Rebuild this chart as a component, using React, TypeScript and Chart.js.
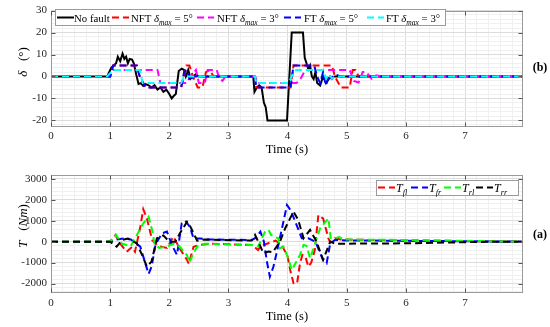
import { useEffect, useRef } from 'react';
import { Chart, registerables } from 'chart.js';
Chart.register(...registerables);

const FONT = '"Liberation Serif", "DejaVu Serif", serif';

// ---------- Panel (b): steering angle delta (deg) ----------
const noFaultT = [0,0.95,1.02,1.06,1.1,1.13,1.17,1.21,1.24,1.27,1.3,1.33,1.37,1.4,1.44,1.48,1.52,1.56,1.6,1.65,1.7,1.75,1.8,1.85,1.9,1.95,2.0,2.04,2.07,2.11,2.16,2.21,2.25,2.28,2.32,2.36,2.4,2.45,2.5,2.6,3.42,3.44,3.48,3.52,3.56,3.6,3.63,3.66,3.99,4.07,4.26,4.29,4.32,4.35,4.38,4.41,4.44,4.47,4.5,4.55,4.6,4.65,4.7,4.8,8];
const noFault = [0,0,4,5,6,9,7,10.4,8,9,6,8,7.7,6,1,-3.4,-3,-4.3,-3.5,-4,-5,-4,-6,-5,-7,-6,-8,-10,-9,-8,2.5,3.6,3,0,3,-1,0,1,0,0,0,-7,-5,-4,-5,-12,-14,-20,-20,20,20,8.5,6,3.3,5,0,-1.2,2,-3,-4.1,0,-3,-1,0,0];

const nft5T = [0,1.0,1.05,1.45,1.5,1.6,2.2,2.25,2.29,2.34,2.4,2.48,2.56,2.62,2.68,2.75,3.45,3.47,4.05,4.1,4.75,4.8,4.9,5.05,5.1,5.15,5.2,8];
const nft5 = [0,0,5,5,0,-5,-5,0,5,5,0,-5,-5,2,3,0,0,-5,-5,5,5,0,-5,-5,3,3,0,0];

const nft3T = [0,1.0,1.05,1.6,1.8,1.85,2.3,2.35,2.45,2.5,2.6,2.65,2.8,2.85,2.9,2.95,3.45,3.5,4.15,4.22,4.3,5.05,5.12,5.2,5.27,5.33,5.42,5.5,5.6,8];
const nft3 = [0,0,3,3,3,-3,-3,0,3,-3,-3,3,3,-1,-2,0,0,-3,-3,-1,3,3,-2,-2.7,2,2,-1,0.5,0,0];

const ft5T = [0,1.0,1.05,1.45,1.5,1.6,2.2,2.25,2.3,2.35,2.4,2.5,3.45,3.47,4.05,4.1,4.45,4.5,4.55,4.6,4.65,4.7,4.75,4.8,4.9,8];
const ft5 = [0,0,5,5,0,-5,-5,2,3,-2,0,0,0,-5,-5,5,5,0,-3,2,-4,1,-1,1,0,0];

const ft3T = [0,0.95,1.05,1.5,1.55,2.2,2.25,2.35,3.45,3.47,4.02,4.1,4.15,4.6,4.65,4.7,4.75,4.8,8];
const ft3 = [0,0,3,3,-3,-3,0,0,0,-3,-3,2,3,3,-1,1,-1,0,0];

// ---------- Panel (a): wheel torques (Nm) ----------
const tflT = [0,1.0,1.09,1.17,1.28,1.37,1.42,1.51,1.56,1.62,1.71,1.8,1.96,2.07,2.18,2.3,2.33,2.41,2.52,2.7,3.4,3.5,3.55,3.65,3.8,3.9,4.0,4.05,4.1,4.16,4.21,4.25,4.3,4.35,4.4,4.46,4.52,4.6,4.69,4.72,4.8,4.9,6,8];
const tfl = [0,0,320,-100,-480,-250,-480,710,1550,1110,80,-200,-300,240,-350,-870,-1060,-240,-150,-100,-160,-400,-200,-100,50,-160,-700,-1430,-1980,-2000,-1030,-630,-700,-1190,-1000,-400,1270,1110,160,-30,160,100,60,0];

const tfrT = [0,1.0,1.1,1.23,1.35,1.51,1.58,1.65,1.7,1.77,1.88,1.96,2.05,2.13,2.21,2.27,2.35,2.41,2.52,2.7,3.4,3.47,3.54,3.6,3.65,3.7,3.76,3.82,3.9,3.99,4.05,4.13,4.24,4.35,4.47,4.6,4.66,4.72,4.8,5,8];
const tfr = [0,0,100,150,100,-240,-900,-1540,-1200,-100,400,480,-200,-630,875,1000,700,150,150,100,80,200,480,0,-950,-1670,-1200,-475,560,1750,1500,950,160,160,0,-870,-1030,-100,80,60,0];

const trlT = [0,1.0,1.1,1.2,1.35,1.45,1.56,1.65,1.71,1.75,1.83,1.96,2.07,2.18,2.3,2.34,2.41,2.47,2.6,3.4,3.5,3.62,3.68,3.72,3.84,3.87,3.93,4.01,4.07,4.14,4.21,4.27,4.32,4.38,4.44,4.55,4.69,4.73,4.8,4.87,4.95,6,8];
const trl = [0,0,320,-100,-200,300,875,1190,540,-100,-300,-240,-100,-250,-650,-1000,-540,-250,-100,-160,-240,480,560,320,160,-320,-240,-790,-1350,-1000,-630,-160,-200,-790,-300,640,1110,160,160,220,100,80,0];

const trrT = [0,1.0,1.11,1.2,1.3,1.45,1.55,1.62,1.7,1.79,1.9,2.0,2.1,2.18,2.3,2.35,2.47,2.6,3.39,3.45,3.52,3.59,3.68,3.75,3.87,3.96,4.1,4.18,4.27,4.38,4.49,4.6,4.72,4.8,6,7.5,8];
const trr = [0,0,-240,80,150,-80,-700,-1190,-950,160,300,0,0,400,950,750,50,100,50,320,-100,-550,-475,-500,0,640,1430,1030,160,560,0,-870,0,-100,-80,0,0];

// ---------- axis ranges / ticks ----------
const timeMin = 0;
const timeMax = 7.98;
const deltaMin = -23;
const deltaMax = 30;
const torqueMin = -2450;
const torqueMax = 3180;

type Part = { t: string; k: 'n' | 'i' | 's' };

function pts(t: number[], v: number[]) {
  return t.map((x, i) => ({ x, y: v[i] }));
}
function makeTicks(min: number, max: number, step: number) {
  const out: number[] = [];
  const k0 = Math.ceil(min / step - 1e-9);
  const k1 = Math.floor(max / step + 1e-9);
  for (let k = k0; k <= k1; k++) out.push(Math.round(k * step * 1000) / 1000);
  return out;
}
function isMajor(v: number, major: number) {
  return Math.abs(v / major - Math.round(v / major)) < 1e-6;
}
function richWidth(ctx: CanvasRenderingContext2D, parts: Part[], size: number) {
  let w = 0;
  for (const p of parts) {
    const fs = p.k === 's' ? size * 0.7 : size;
    ctx.font = `${p.k === 'n' ? '' : 'italic '}${fs}px ${FONT}`;
    w += ctx.measureText(p.t).width;
  }
  return w;
}
function drawRich(ctx: CanvasRenderingContext2D, parts: Part[], x: number, y: number, size: number) {
  let cx = x;
  for (const p of parts) {
    const fs = p.k === 's' ? size * 0.7 : size;
    ctx.font = `${p.k === 'n' ? '' : 'italic '}${fs}px ${FONT}`;
    ctx.fillText(p.t, cx, y + (p.k === 's' ? size * 0.28 : 0));
    cx += ctx.measureText(p.t).width;
  }
}

function axis(position: string, min: number, max: number, minor: number, major: number, pad: number, fit: (s: any) => void) {
  return {
    type: 'linear',
    position,
    min,
    max,
    bounds: 'data',
    afterBuildTicks: (s: any) => {
      s.ticks = makeTicks(min, max, minor).map((v) => ({ value: v }));
    },
    afterFit: fit,
    ticks: {
      autoSkip: false,
      maxRotation: 0,
      padding: pad,
      color: '#262626',
      font: { family: FONT, size: 11 },
      callback: (v: number) => (isMajor(v, major) ? String(v) : ''),
    },
    grid: {
      drawTicks: false,
      lineWidth: 1,
      color: (c: any) => (c.tick && isMajor(c.tick.value, major) ? '#dcdcdc' : '#f0f0f0'),
    },
    border: { display: false },
  };
}

type LegendItem = { lx: number; tx: number; color: string; dash: number[]; parts: Part[] };
type Deco = {
  xMajor: number;
  yMajor: number;
  box: [number, number, number, number];
  legendY: number;
  legend: LegendItem[];
  legendSize: number;
  yTitle: Part[];
  yTitleX: number;
  yTitleY: number;
  xTitleY: number;
  tag: string;
  tagY: number;
};

function decoPlugin(d: Deco) {
  return {
    id: 'deco',
    afterDatasetsDraw(chart: any) {
      const { ctx, chartArea: a } = chart;
      ctx.save();
      ctx.strokeStyle = '#9a9a9a';
      ctx.lineWidth = 1;
      const L = Math.round(a.left) + 0.5, T = Math.round(a.top) + 0.5;
      const R = Math.round(a.right) - 0.5, B = Math.round(a.bottom) - 0.5;
      ctx.strokeRect(L, T, R - L, B - T);
      ctx.strokeStyle = '#555';
      ctx.beginPath();
      const xs = chart.scales.x, ys = chart.scales.y;
      for (const t of xs.ticks) {
        if (!isMajor(t.value, d.xMajor)) continue;
        const p = Math.round(xs.getPixelForValue(t.value)) + 0.5;
        ctx.moveTo(p, B); ctx.lineTo(p, B - 4);
        ctx.moveTo(p, T); ctx.lineTo(p, T + 4);
      }
      for (const t of ys.ticks) {
        if (!isMajor(t.value, d.yMajor)) continue;
        const p = Math.round(ys.getPixelForValue(t.value)) + 0.5;
        ctx.moveTo(L, p); ctx.lineTo(L + 4, p);
        ctx.moveTo(R, p); ctx.lineTo(R - 4, p);
      }
      ctx.stroke();
      ctx.restore();
    },
    afterDraw(chart: any) {
      const { ctx, chartArea: a } = chart;
      ctx.save();
      const [bx, by, bw, bh] = d.box;
      ctx.fillStyle = '#fff';
      ctx.fillRect(bx, by, bw, bh);
      ctx.strokeStyle = '#9a9a9a';
      ctx.lineWidth = 1;
      ctx.strokeRect(bx + 0.5, by + 0.5, bw, bh);
      for (const it of d.legend) {
        ctx.strokeStyle = it.color;
        ctx.lineWidth = 2;
        ctx.setLineDash(it.dash);
        ctx.beginPath();
        ctx.moveTo(it.lx, d.legendY);
        ctx.lineTo(it.lx + 17, d.legendY);
        ctx.stroke();
        ctx.setLineDash([]);
        ctx.fillStyle = '#000';
        ctx.textBaseline = 'alphabetic';
        drawRich(ctx, it.parts, it.tx, d.legendY + 4, d.legendSize);
      }
      ctx.fillStyle = '#000';
      ctx.textAlign = 'left';
      const xt: Part[] = [{ t: 'Time (s)', k: 'n' }];
      const xw = richWidth(ctx, xt, 12.5);
      drawRich(ctx, xt, (a.left + a.right) / 2 - xw / 2, d.xTitleY + 4, 12.5);
      ctx.save();
      ctx.translate(d.yTitleX, d.yTitleY);
      ctx.rotate(-Math.PI / 2);
      const yw = richWidth(ctx, d.yTitle, 13);
      drawRich(ctx, d.yTitle, -yw / 2, 4.5, 13);
      ctx.restore();
      ctx.font = `bold 12px ${FONT}`;
      ctx.textAlign = 'center';
      ctx.textBaseline = 'middle';
      ctx.fillText(d.tag, 540, d.tagY);
      ctx.restore();
    },
  };
}

const DASH = [7, 4];

function ds(t: number[], v: number[], color: string, dash: number[], order: number) {
  return {
    data: pts(t, v),
    borderColor: color,
    backgroundColor: color,
    borderWidth: 2,
    borderDash: dash,
    pointRadius: 0,
    tension: 0,
    fill: false,
    order,
  };
}

export default function App() {
  const r1 = useRef<HTMLCanvasElement>(null);
  const r2 = useRef<HTMLCanvasElement>(null);

  useEffect(() => {
    document.body.style.margin = '0';
    const dsub = (v: string): Part[] => [
      { t: 'NFT ', k: 'n' },
      { t: 'δ', k: 'i' },
      { t: 'max', k: 's' },
      { t: ' = ' + v, k: 'n' },
    ];
    const fsub = (v: string): Part[] => [
      { t: 'FT ', k: 'n' },
      { t: 'δ', k: 'i' },
      { t: 'max', k: 's' },
      { t: ' = ' + v, k: 'n' },
    ];
    const c1 = new Chart(r1.current!, {
      type: 'line',
      data: {
        datasets: [
          ds(noFaultT, noFault, '#000000', [], 5),
          ds(nft5T, nft5, '#ff0000', DASH, 4),
          ds(nft3T, nft3, '#ff00ff', DASH, 3),
          ds(ft5T, ft5, '#0000ff', DASH, 2),
          ds(ft3T, ft3, '#00ffff', DASH, 1),
        ] as any,
      },
      options: {
        responsive: false,
        animation: false,
        devicePixelRatio: 1,
        layout: { padding: { top: 8, right: 27, left: 0, bottom: 0 } },
        plugins: { legend: { display: false }, tooltip: { enabled: false } },
        scales: {
          x: axis('bottom', timeMin, timeMax, 0.2, 1, 3, (s: any) => { s.height = 33; }),
          y: axis('left', deltaMin, deltaMax, 2, 10, 4, (s: any) => { s.width = 51; }),
        } as any,
      },
      plugins: [
        decoPlugin({
          xMajor: 1,
          yMajor: 10,
          box: [55, 9, 390, 16],
          legendY: 17.5,
          legendSize: 10.8,
          legend: [
            { lx: 57, tx: 74, color: '#000', dash: [], parts: [{ t: 'No fault', k: 'n' }] },
            { lx: 112, tx: 131, color: '#ff0000', dash: DASH, parts: dsub('5°') },
            { lx: 197, tx: 217, color: '#ff00ff', dash: DASH, parts: dsub('3°') },
            { lx: 284, tx: 304, color: '#0000ff', dash: DASH, parts: fsub('5°') },
            { lx: 367, tx: 386, color: '#00ffff', dash: DASH, parts: fsub('3°') },
          ],
          yTitle: [{ t: 'δ', k: 'i' }, { t: '   (°)', k: 'n' }],
          yTitleX: 22,
          yTitleY: 62,
          xTitleY: 149,
          tag: '(b)',
          tagY: 68,
        }),
      ] as any,
    } as any);

    const tsub = (s: string): Part[] => [{ t: 'T', k: 'i' }, { t: s, k: 's' }];
    const c2 = new Chart(r2.current!, {
      type: 'line',
      data: {
        datasets: [
          ds(tflT, tfl, '#ff0000', DASH, 4),
          ds(tfrT, tfr, '#0000ff', DASH, 3),
          ds(trlT, trl, '#00ff00', DASH, 2),
          ds(trrT, trr, '#000000', DASH, 1),
        ] as any,
      },
      options: {
        responsive: false,
        animation: false,
        devicePixelRatio: 1,
        layout: { padding: { top: 15, right: 27, left: 0, bottom: 0 } },
        plugins: { legend: { display: false }, tooltip: { enabled: false } },
        scales: {
          x: axis('bottom', timeMin, timeMax, 0.2, 1, 4, (s: any) => { s.height = 34; }),
          y: axis('left', torqueMin, torqueMax, 200, 1000, 4, (s: any) => { s.width = 51; }),
        } as any,
      },
      plugins: [
        decoPlugin({
          xMajor: 1,
          yMajor: 1000,
          box: [376, 20, 142, 15],
          legendY: 27.5,
          legendSize: 12,
          legend: [
            { lx: 378, tx: 396, color: '#ff0000', dash: DASH, parts: tsub('fl') },
            { lx: 411, tx: 429, color: '#0000ff', dash: DASH, parts: tsub('fr') },
            { lx: 444, tx: 462, color: '#00ff00', dash: DASH, parts: tsub('rl') },
            { lx: 476, tx: 494, color: '#000000', dash: DASH, parts: tsub('rr') },
          ],
          yTitle: [{ t: 'T', k: 'i' }, { t: '   (', k: 'n' }, { t: 'Nm', k: 'i' }, { t: ')', k: 'n' }],
          yTitleX: 22,
          yTitleY: 66,
          xTitleY: 156,
          tag: '(a)',
          tagY: 75,
        }),
      ] as any,
    } as any);

    return () => {
      c1.destroy();
      c2.destroy();
    };
  }, []);

  return (
    <div style={{ width: 550, height: 327, background: '#fff' }}>
      <canvas ref={r1} width={550} height={160} style={{ display: 'block' }} />
      <canvas ref={r2} width={550} height={167} style={{ display: 'block' }} />
    </div>
  );
}
